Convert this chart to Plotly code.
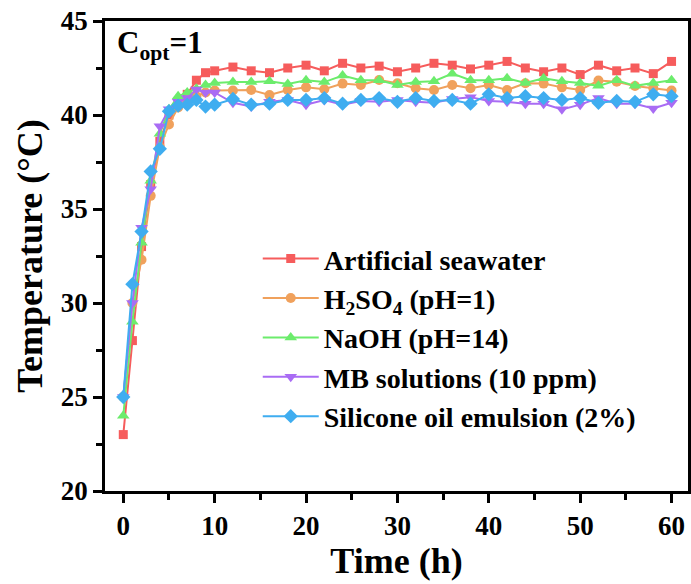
import plotly.graph_objects as go

# Sampling times (h): hourly for the first 10 h, then every 2 h
time_h = list(range(0, 11)) + list(range(12, 61, 2))

seawater = [23.0, 28.0, 33.0, 36.3, 38.6, 40.0, 40.6, 41.1, 41.85, 42.25, 42.35,
            42.55, 42.35, 42.25, 42.5, 42.65, 42.35, 42.75, 42.5, 42.6, 42.3,
            42.5, 42.75, 42.65, 42.45, 42.65, 42.85, 42.5, 42.3, 42.5, 42.15,
            42.65, 42.35, 42.5, 42.2, 42.85]
h2so4 = [25.0, 30.0, 32.3, 35.7, 38.3, 39.5, 40.4, 40.8, 41.0, 41.2, 41.3,
         41.3, 41.33, 41.06, 41.33, 41.47, 41.37, 41.67, 41.6, 41.86, 41.69,
         41.42, 41.33, 41.6, 41.42, 41.6, 41.33, 41.69, 41.67, 41.47, 41.33,
         41.83, 41.77, 41.54, 41.42, 41.3]
naoh = [24.0, 29.0, 33.2, 36.5, 39.0, 40.3, 41.0, 41.2, 41.4, 41.6, 41.7,
        41.75, 41.75, 41.8, 41.65, 41.85, 41.75, 42.1, 41.85, 41.85, 41.6,
        41.75, 41.8, 42.2, 41.85, 41.85, 41.95, 41.7, 41.95, 41.8, 41.7,
        41.55, 41.85, 41.55, 41.7, 41.85]
mb = [25.0, 30.0, 34.0, 36.05, 39.4, 40.3, 40.7, 40.9, 41.35, 41.2, 41.2,
      40.65, 40.45, 40.7, 40.8, 40.55, 40.8, 40.55, 40.75, 40.7, 40.8,
      40.7, 40.65, 40.85, 40.95, 40.75, 40.7, 40.6, 40.6, 40.3, 40.55,
      40.9, 40.6, 40.6, 40.35, 40.65]
silicone = [25.0, 31.0, 33.8, 37.0, 38.2, 40.2, 40.5, 40.55, 40.8, 40.45, 40.55,
            40.85, 40.55, 40.6, 40.8, 40.8, 40.9, 40.6, 40.8, 40.9, 40.7,
            40.9, 40.75, 40.8, 40.6, 41.1, 40.9, 41.0, 40.9, 40.8, 40.9,
            40.65, 40.75, 40.7, 41.1, 41.0]

series_names = [
    "Artificial seawater",
    "H<sub>2</sub>SO<sub>4</sub> (pH=1)",
    "NaOH (pH=14)",
    "MB solutions (10 ppm)",
    "Silicone oil emulsion (2%)",
]
series_values = [seawater, h2so4, naoh, mb, silicone]
colors = ["#F65C5C", "#F0A15C", "#6CEC6C", "#A96CF4", "#3FADF0"]
symbols = ["square", "circle", "triangle-up", "triangle-down", "diamond"]
sizes = [9, 10, 11, 11, 11]

FONT = "Times New Roman, Liberation Serif, serif"

fig = go.Figure()
for name, vals, col, sym, sz in zip(series_names, series_values, colors, symbols, sizes):
    fig.add_trace(go.Scatter(
        x=time_h, y=vals, name=name, mode="lines+markers",
        line=dict(color=col, width=2),
        marker=dict(color=col, symbol=sym, size=sz, line=dict(width=0)),
    ))

axis_common = dict(
    showline=True, linecolor="black", linewidth=2.5, mirror=True,
    ticks="outside", ticklen=9, tickwidth=2.5, tickcolor="black",
    showgrid=False, zeroline=False,
    tickfont=dict(family=FONT, size=27, color="black", weight="bold"),
)

fig.update_xaxes(
    range=[-2, 61.8], tick0=0, dtick=10,
    minor=dict(ticks="outside", dtick=5, ticklen=6, tickwidth=2.5, tickcolor="black"),
    title=dict(text="Time (h)", font=dict(family=FONT, size=36, color="black", weight="bold"), standoff=6),
    automargin=False,
    **axis_common,
)
fig.update_yaxes(
    range=[20, 45], tick0=20, dtick=5,
    minor=dict(ticks="outside", dtick=2.5, ticklen=6, tickwidth=2.5, tickcolor="black"),
    title=dict(text="Temperature (°C)", font=dict(family=FONT, size=36, color="black", weight="bold"), standoff=8),
    automargin=False,
    **axis_common,
)

fig.add_annotation(
    text="C<sub>opt</sub>=1", xref="paper", yref="paper", x=0.018, y=0.995,
    xanchor="left", yanchor="top", showarrow=False,
    font=dict(family=FONT, size=31, color="black", weight="bold"),
)

fig.update_layout(
    width=691, height=584,
    margin=dict(l=105, r=3, t=21, b=93),
    paper_bgcolor="white", plot_bgcolor="white",
    font=dict(family=FONT, color="black", weight="bold"),
    showlegend=True,
    legend=dict(
        x=0.262, y=0.547, xanchor="left", yanchor="top",
        bgcolor="rgba(0,0,0,0)", borderwidth=0,
        font=dict(family=FONT, size=28, color="black", weight="bold"),
        itemwidth=56, tracegroupgap=0,
    ),
)

fig.write_html("out.html")
